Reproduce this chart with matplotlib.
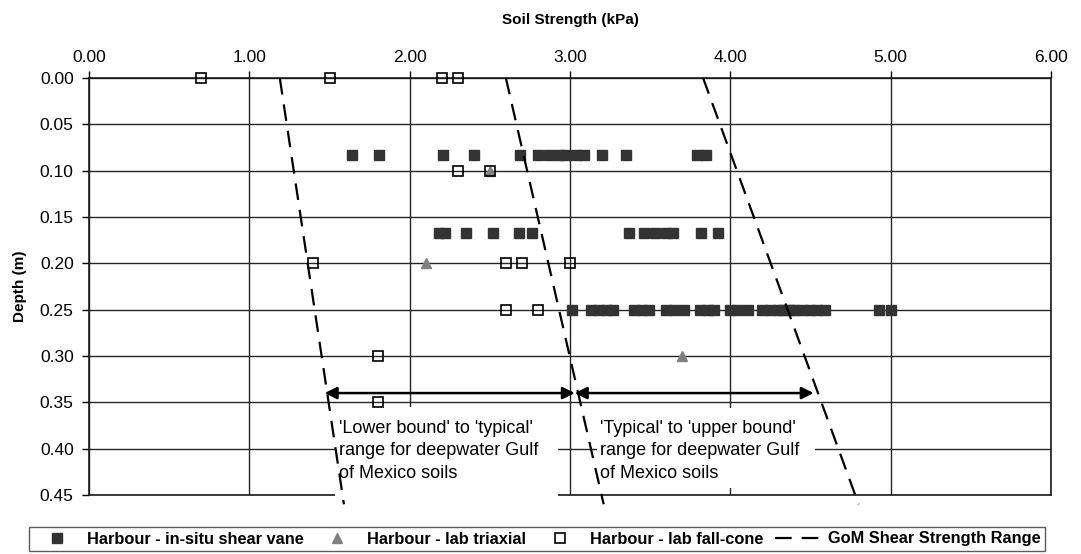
import numpy as np
import matplotlib.pyplot as plt
from matplotlib.patches import Rectangle

plt.rcParams['font.family'] = ['Liberation Sans', 'DejaVu Sans']

# Harbour - in-situ shear vane (kPa) at three depths
vane_d1 = 0.083
vane_s1 = [1.64, 1.81, 2.21, 2.40, 2.69, 2.80, 2.87, 2.93, 2.97, 3.04, 3.09, 3.20, 3.35, 3.79, 3.85]
vane_d2 = 0.167
vane_s2 = [2.18, 2.22, 2.35, 2.52, 2.68, 2.76, 3.37, 3.46, 3.53, 3.60, 3.64, 3.82, 3.92]
vane_d3 = 0.25
vane_s3 = [3.01, 3.13, 3.18, 3.23, 3.27, 3.40, 3.45, 3.49, 3.60, 3.65, 3.71, 3.81, 3.86, 3.90,
           4.00, 4.05, 4.11, 4.20, 4.25, 4.30, 4.33, 4.37, 4.40, 4.45, 4.50, 4.54, 4.59, 4.93, 5.00]

# Harbour - lab triaxial
tri_s = [2.50, 2.10, 3.70]
tri_d = [0.10, 0.20, 0.30]

# Harbour - lab fall-cone
cone_s = [0.70, 1.50, 2.20, 2.30, 2.30, 2.50, 1.40, 2.60, 2.70, 3.00, 2.60, 2.80, 1.80, 1.80]
cone_d = [0.00, 0.00, 0.00, 0.00, 0.10, 0.10, 0.20, 0.20, 0.20, 0.20, 0.25, 0.25, 0.30, 0.35]

# GoM shear strength range (lower bound, typical, upper bound)
gom_depth = [0.0, 0.46]
gom_lower = [1.19, 1.59]
gom_typical = [2.60, 3.21]
gom_upper = [3.83, 4.80]

# range arrows
arrow_depth = 0.34
arrow_lower = [1.47, 3.03]
arrow_upper = [3.03, 4.52]

fig = plt.figure(figsize=(10.81, 5.54), dpi=100)
ax = fig.add_axes([89/1081, 1 - 495/554, 962/1081, 417/554])

ax.set_xlim(0, 6)
ax.set_ylim(0.45, 0)
ax.set_xticks(np.arange(0, 6.01, 1.0))
ax.set_yticks(np.arange(0, 0.451, 0.05))
ax.xaxis.set_major_formatter(plt.FormatStrFormatter('%.2f'))
ax.yaxis.set_major_formatter(plt.FormatStrFormatter('%.2f'))
ax.xaxis.tick_top()
ax.xaxis.set_label_position('top')
ax.tick_params(axis='both', labelsize=12.5, length=5, width=1, color='black', direction='out')
ax.tick_params(axis='x', pad=4)
ax.tick_params(axis='y', pad=6)
ax.grid(True, color='0.15', linewidth=1)
ax.set_axisbelow(True)
for s in ax.spines.values():
    s.set_linewidth(1.2)
    s.set_color('0.1')

ax.set_xlabel('Soil Strength (kPa)', fontsize=11, fontweight='bold', labelpad=19)
ax.set_ylabel('Depth (m)', fontsize=11, fontweight='bold', labelpad=9)

sq = dict(marker='s', markersize=6.8, linestyle='none', clip_on=False)
ax.plot(vane_s1, [vane_d1] * len(vane_s1), color='#333333', zorder=5, label='Harbour - in-situ shear vane', **sq)
ax.plot(vane_s2, [vane_d2] * len(vane_s2), color='#333333', zorder=5, **sq)
ax.plot(vane_s3, [vane_d3] * len(vane_s3), color='#333333', zorder=5, **sq)
ax.plot(tri_s, tri_d, marker='^', markersize=7, linestyle='none', color='#808080',
        zorder=5, clip_on=False, label='Harbour - lab triaxial')
ax.plot(cone_s, cone_d, marker='s', markersize=7, linestyle='none', markerfacecolor='none',
        markeredgecolor='black', markeredgewidth=1.2, zorder=6, clip_on=False,
        label='Harbour - lab fall-cone')

dash = (7.5, 4.5)
ax.plot(gom_lower, gom_depth, color='black', lw=1.6, dashes=dash, clip_on=False, zorder=7,
        label='GoM Shear Strength Range')
ax.plot(gom_typical, gom_depth, color='black', lw=1.6, dashes=dash, clip_on=False, zorder=7)
ax.plot(gom_upper, gom_depth, color='black', lw=1.6, dashes=dash, clip_on=False, zorder=7)

for a in (arrow_lower, arrow_upper):
    ax.annotate('', xy=(a[0], arrow_depth), xytext=(a[1], arrow_depth),
                arrowprops=dict(arrowstyle='<|-|>', color='black', lw=1.8,
                                mutation_scale=18, shrinkA=0, shrinkB=0), zorder=8)

# white text boxes
ax.add_patch(Rectangle((1.535, 0.455), 1.39, -0.0995, facecolor='white', edgecolor='none',
                       clip_on=False, zorder=3))
ax.add_patch(Rectangle((3.17, 0.4425), 1.36, -0.0865, facecolor='white', edgecolor='none',
                       clip_on=False, zorder=3))
ax.text(1.56, 0.369, "'Lower bound' to 'typical'\nrange for deepwater Gulf\nof Mexico soils",
        fontsize=13, va='top', ha='left', linespacing=1.42, zorder=4)
ax.text(3.19, 0.369, "'Typical' to 'upper bound'\nrange for deepwater Gulf\nof Mexico soils",
        fontsize=13, va='top', ha='left', linespacing=1.42, zorder=4)

leg = fig.legend(loc='center', bbox_to_anchor=(537/1081, 1 - 539/554), ncol=4,
                 prop={'weight': 'bold', 'size': 11.8}, frameon=True, fancybox=False,
                 edgecolor='0.2', handlelength=2.8, handletextpad=0.43, columnspacing=0.67,
                 borderpad=0.3, borderaxespad=0)
leg.get_frame().set_linewidth(1.0)

fig.savefig('out.png', dpi=100)
